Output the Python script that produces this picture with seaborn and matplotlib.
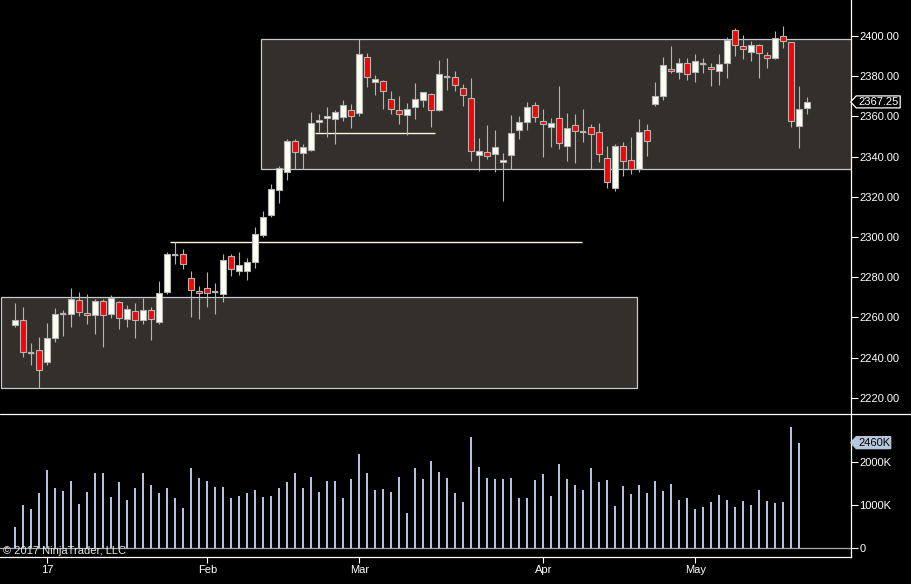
import matplotlib
matplotlib.use('Agg')
import matplotlib.pyplot as plt
from matplotlib.patches import Rectangle, Polygon
from matplotlib.lines import Line2D
from matplotlib.transforms import IdentityTransform
import numpy as np
import seaborn as sns

# daily bars
opens = [2256.0, 2258.5, 2242.4, 2243.6, 2238.0, 2249.9, 2261.7, 2261.5, 2268.5, 2262.0,
         2261.0, 2268.0, 2261.9, 2267.5, 2259.4, 2263.2, 2258.5, 2263.5, 2257.9, 2272.8,
         2291.1, 2291.4, 2279.4, 2273.1, 2274.5, 2272.8, 2271.5, 2290.4, 2283.1, 2282.9,
         2287.8, 2301.2, 2311.0, 2323.5, 2332.5, 2347.8, 2342.0, 2343.5, 2357.1, 2359.1,
         2358.6, 2359.9, 2363.1, 2361.6, 2389.4, 2377.0, 2377.5, 2368.5, 2363.1, 2360.6,
         2364.6, 2368.0, 2371.0, 2363.4, 2379.5, 2379.5, 2374.0, 2369.0, 2340.7, 2342.5,
         2341.2, 2337.2, 2340.7, 2353.1, 2357.1, 2365.5, 2357.6, 2354.6, 2359.1, 2345.5,
         2355.6, 2352.4, 2354.6, 2352.1, 2339.2, 2324.2, 2345.1, 2338.2, 2333.7, 2353.1,
         2366.0, 2370.0, 2383.4, 2382.0, 2386.4, 2382.0, 2386.3, 2384.4, 2382.5, 2386.4,
         2402.9, 2394.9, 2391.9, 2395.4, 2390.4, 2388.9, 2399.9, 2396.9, 2355.1, 2364.0]
highs = [2267.0, 2265.0, 2247.1, 2250.1, 2257.1, 2264.5, 2263.7, 2274.5, 2272.5, 2271.5,
         2269.0, 2269.0, 2271.1, 2268.2, 2266.0, 2267.0, 2269.7, 2265.0, 2278.0, 2292.4,
         2297.4, 2294.0, 2283.1, 2275.6, 2282.6, 2277.1, 2291.6, 2291.4, 2292.4, 2289.4,
         2304.8, 2312.8, 2326.2, 2335.3, 2348.6, 2348.6, 2346.3, 2362.2, 2361.2, 2364.6,
         2363.2, 2368.2, 2366.2, 2398.5, 2391.4, 2380.6, 2378.0, 2372.7, 2370.2, 2366.5,
         2376.8, 2372.0, 2371.5, 2388.0, 2389.0, 2382.5, 2376.0, 2379.0, 2349.1, 2356.0,
         2353.1, 2341.7, 2360.6, 2360.1, 2367.2, 2367.2, 2363.7, 2359.2, 2375.2, 2361.7,
         2361.2, 2363.7, 2356.1, 2356.6, 2345.3, 2346.3, 2347.1, 2349.8, 2358.7, 2356.3,
         2377.1, 2389.6, 2394.9, 2388.9, 2388.9, 2390.9, 2388.9, 2386.4, 2390.9, 2399.4,
         2403.9, 2400.4, 2397.4, 2395.9, 2391.9, 2402.4, 2404.9, 2396.9, 2375.0, 2369.5]
lows = [2255.1, 2240.5, 2236.3, 2224.7, 2236.3, 2247.9, 2250.7, 2255.2, 2260.7, 2256.9,
        2251.7, 2245.4, 2259.9, 2254.4, 2255.2, 2249.9, 2256.7, 2248.8, 2256.7, 2271.8,
        2286.7, 2284.1, 2260.2, 2259.4, 2265.3, 2261.9, 2267.8, 2280.8, 2281.3, 2278.5,
        2284.8, 2300.2, 2310.1, 2317.1, 2328.4, 2333.7, 2333.7, 2342.8, 2352.3, 2349.8,
        2346.5, 2357.7, 2354.4, 2360.4, 2374.8, 2370.9, 2363.9, 2361.2, 2356.4, 2350.9,
        2358.9, 2364.9, 2354.9, 2362.9, 2373.2, 2372.8, 2365.4, 2338.0, 2332.7, 2338.7,
        2332.2, 2318.1, 2333.7, 2348.8, 2353.3, 2357.1, 2340.0, 2345.0, 2344.0, 2338.0,
        2337.0, 2347.4, 2333.9, 2337.5, 2324.2, 2323.1, 2330.5, 2331.5, 2332.5, 2340.5,
        2365.2, 2368.2, 2381.8, 2378.8, 2378.1, 2377.3, 2381.8, 2375.3, 2375.8, 2379.3,
        2389.9, 2388.4, 2387.8, 2379.3, 2384.3, 2388.4, 2393.9, 2354.9, 2344.5, 2361.1]
closes = [2258.5, 2242.6, 2242.4, 2233.7, 2249.6, 2261.5, 2261.7, 2269.0, 2262.5, 2261.0,
          2268.0, 2261.0, 2269.8, 2259.9, 2264.0, 2258.9, 2263.7, 2259.4, 2272.0, 2291.4,
          2291.1, 2286.4, 2273.5, 2272.0, 2272.0, 2272.8, 2288.4, 2283.9, 2285.9, 2287.4,
          2301.3, 2309.8, 2323.7, 2334.2, 2347.7, 2342.5, 2345.0, 2357.0, 2358.1, 2360.1,
          2362.1, 2365.5, 2360.1, 2390.9, 2379.5, 2378.5, 2372.5, 2363.6, 2361.1, 2363.6,
          2368.5, 2372.0, 2363.1, 2381.0, 2379.5, 2375.5, 2370.5, 2342.7, 2342.7, 2340.2,
          2345.0, 2338.5, 2351.6, 2357.1, 2364.6, 2359.6, 2356.1, 2356.6, 2346.6, 2354.1,
          2352.6, 2352.4, 2351.1, 2341.1, 2327.5, 2345.1, 2337.7, 2334.0, 2352.1, 2347.6,
          2370.0, 2385.4, 2382.5, 2386.4, 2381.0, 2387.4, 2386.3, 2383.4, 2385.9, 2397.9,
          2395.4, 2393.4, 2395.4, 2391.4, 2388.9, 2398.9, 2397.4, 2357.6, 2363.5, 2367.25]
volume_k = [484, 999, 906, 1280, 1819, 1397, 1327, 1561, 1023, 1304,
            1749, 1749, 1187, 1538, 1116, 1397, 1749, 1468, 1280, 1397,
            1163, 929, 1866, 1632, 1561, 1421, 1421, 1163, 1210, 1280,
            1350, 1187, 1210, 1397, 1538, 1749, 1397, 1655, 1304, 1561,
            1561, 1163, 1608, 2194, 1749, 1350, 1374, 1304, 1655, 812,
            1866, 1608, 2030, 1772, 1632, 1280, 1069, 2592, 1889, 1632,
            1608, 1608, 1632, 1163, 1163, 1585, 1725, 1210, 1959, 1608,
            1468, 1350, 1866, 1538, 1585, 976, 1444, 1257, 1468, 1280,
            1561, 1327, 1491, 1116, 1163, 906, 952, 1069, 1233, 1116,
            952, 1093, 999, 1350, 1093, 1046, 1069, 2826, 2460, 0]

# month ticks (bar index of first session of month)
month_pos = [4, 24, 43, 66, 85]
month_labels = ['17', 'Feb', 'Mar', 'Apr', 'May']

# drawn objects: zones (x0, x1, low, high) and lines (x0, x1, price)
zones = [(30.75, 110.0, 2333.7, 2398.4), (-1.79, 77.75, 2224.7, 2270.0)]
levels = [(19.3, 70.8, 2297.4), (37.45, 52.45, 2351.6)]

price_ticks = list(range(2220, 2401, 20))
vol_ticks = [0, 1000, 2000]
vol_labels = ['0', '1000K', '2000K']

sns.set_theme(style='dark', rc={'axes.facecolor': 'black', 'figure.facecolor': 'black',
                                'axes.grid': False})
plt.rcParams['font.family'] = ['Liberation Sans', 'DejaVu Sans']

W, H = 911, 584
fig = plt.figure(figsize=(W / 100, H / 100), dpi=100, facecolor='black')
ax = fig.add_axes([0, 1 - 414 / H, 850.7 / W, 414 / H])
axv = fig.add_axes([0, 1 - 557 / H, 850.7 / W, (557 - 414) / H])

idx = np.arange(len(closes))
o = np.array(opens); c = np.array(closes)
hi = np.array(highs); lo = np.array(lows)

edge = '#b4b4b4'
for x0, x1, y0, y1 in zones:
    ax.add_patch(Rectangle((x0, y0), x1 - x0, y1 - y0, facecolor='#332f2a',
                           edgecolor='#c4cad2', lw=0.9, zorder=1))
for x0, x1, y in levels:
    ax.hlines(y, x0, x1, color='#fff6dc', lw=1.0, zorder=1.5)

ax.vlines(idx, lo, hi, color=edge, lw=0.8, zorder=2)
body_col = np.where(c > o, 'ivory', '#ff0000')
ax.bar(idx, np.abs(c - o), bottom=np.minimum(o, c), width=0.72, color=body_col,
       edgecolor=edge, linewidth=0.8, zorder=3)
doji = np.isclose(o, c)
ax.hlines(c[doji], idx[doji] - 0.36, idx[doji] + 0.36, color=edge, lw=1.6, zorder=3)

ax.set_xlim(-15.3 / 8, (850.7 - 15.3) / 8)
ax.set_ylim(2400 + 36.1 / 2.0094, 2400 - (414 - 36.1) / 2.0094)
ax.invert_yaxis()
ax.set_xticks([])
ax.yaxis.tick_right()
ax.set_yticks(price_ticks)
ax.set_yticklabels([f'{v:.2f}' for v in price_ticks])
ax.tick_params(axis='y', colors='white', labelcolor='white', length=5.2, width=0.8,
               pad=1, labelsize=8, direction='out', right=True, left=False)
for s in ['left', 'top', 'bottom']:
    ax.spines[s].set_visible(False)
ax.spines['right'].set_color('white')
ax.spines['right'].set_linewidth(0.9)

# volume
sns.barplot(x=idx, y=volume_k, native_scale=True, width=0.28, color='#b0c4de',
            saturation=1, errorbar=None, linewidth=0, ax=axv)
axv.axhline(0, color='#a8a8a8', lw=0.9, zorder=0)
axv.set_xlim(-15.3 / 8, (850.7 - 15.3) / 8)
axv.set_ylim((547.7 - 557) / 42.7 * 1000, (547.7 - 414) / 42.7 * 1000)
axv.set_xlabel(''); axv.set_ylabel('')
axv.yaxis.tick_right()
axv.set_yticks(vol_ticks)
axv.set_yticklabels(vol_labels)
axv.set_xticks(month_pos)
axv.set_xticklabels(month_labels)
axv.tick_params(axis='y', colors='white', labelcolor='white', length=5.2, width=0.8,
                pad=1, labelsize=8, right=True, left=False)
axv.tick_params(axis='x', colors='white', labelcolor='white', length=4.5, width=0.8,
                pad=1.5, labelsize=8, bottom=True)
for s in ['left', 'top']:
    axv.spines[s].set_visible(False)
for s in ['right', 'bottom']:
    axv.spines[s].set_color('white')
    axv.spines[s].set_linewidth(0.9)

fig.add_artist(Line2D([0, 1], [1 - 414 / H] * 2, transform=fig.transFigure,
                      color='white', lw=0.9))


def tag(axis, value, text, fc, ec, tc, wbox):
    tx, ty = axis.get_yaxis_transform().transform((1.0, value))
    h = 6.0
    verts = [(tx, ty), (tx + 5.5, ty + h), (tx + wbox, ty + h),
             (tx + wbox, ty - h), (tx + 5.5, ty - h)]
    fig.add_artist(Polygon(verts, closed=True, facecolor=fc, edgecolor=ec, lw=0.9,
                           transform=IdentityTransform()))
    fig.text(tx + 7.5, ty, text, transform=IdentityTransform(), color=tc,
             fontsize=8, va='center', ha='left')


tag(ax, closes[-1], f'{closes[-1]:.2f}', 'black', 'white', 'white', 49.5)
tag(axv, volume_k[-2], f'{volume_k[-2]}K', '#b8c8dc', '#b8c8dc', 'black', 40)

fig.text(3 / W, 30 / H, '\u00a9 2017 NinjaTrader, LLC', color='#e8e8e8', fontsize=8,
         va='baseline', ha='left')

fig.savefig('out.png', dpi=100, facecolor='black')
